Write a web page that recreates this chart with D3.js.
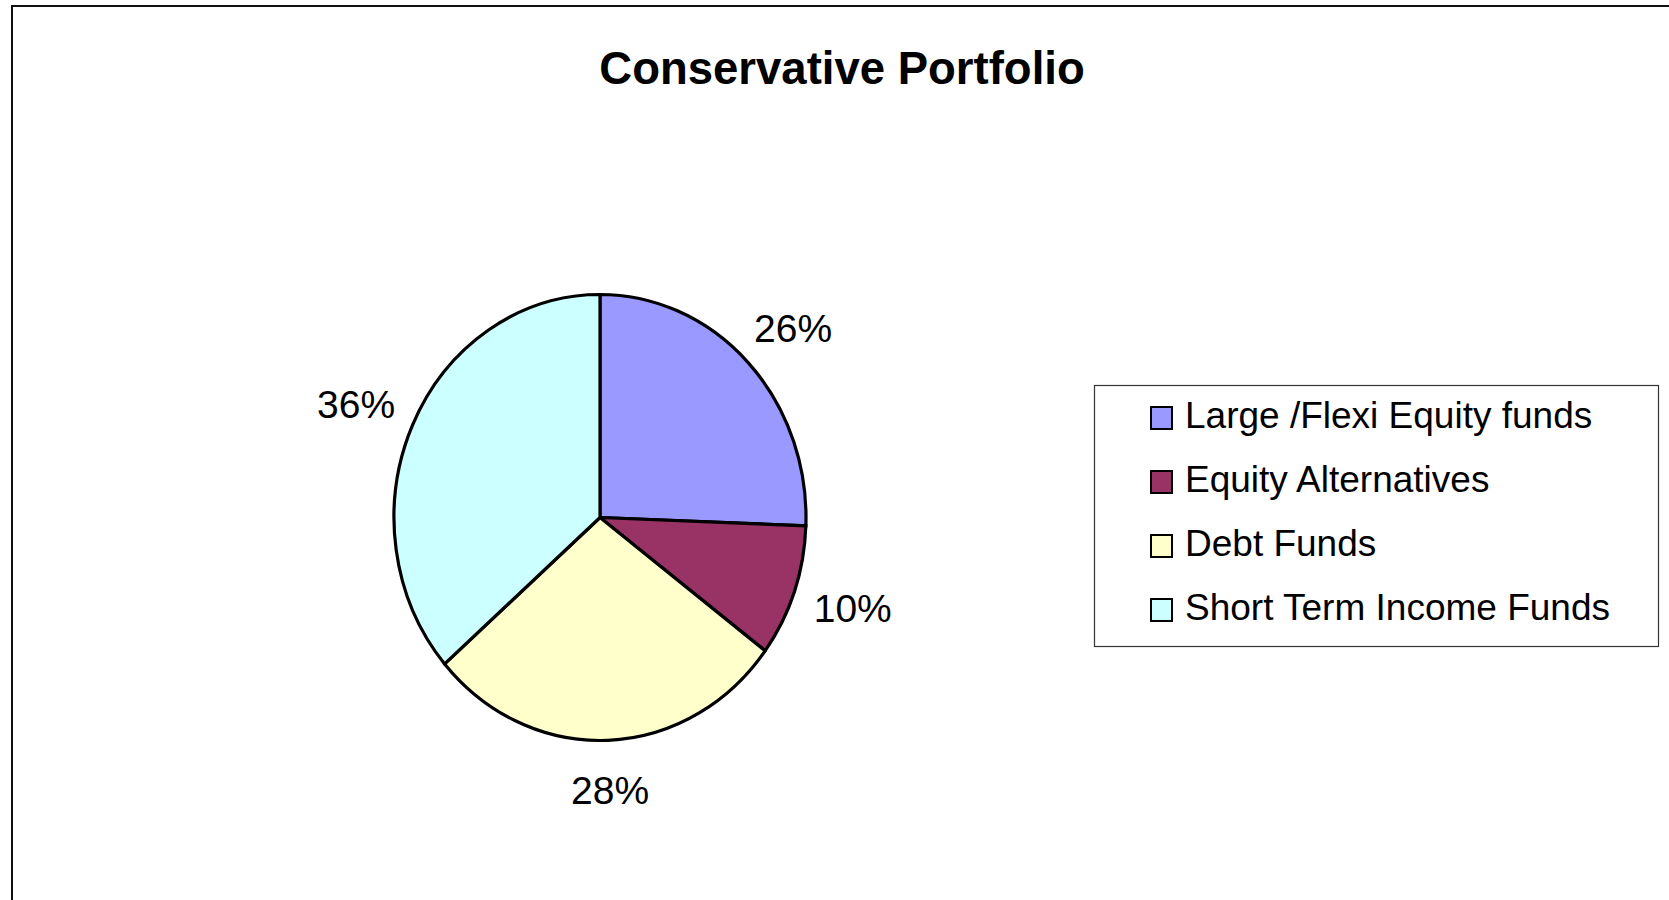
<!DOCTYPE html>
<html lang="en">
<head>
    <meta charset="UTF-8">
    <title>Conservative Portfolio</title>
    <script src="https://d3js.org/d3.v7.min.js"></script>
    <style>
        body {
            margin: 0;
            background-color: white;
        }

        svg {
            display: block;
            font-family: "Liberation Sans", Arial, sans-serif;
        }

        .slice {
            stroke: black;
            stroke-width: 3.2px;
        }

        .pct {
            font-size: 39px;
            fill: black;
            text-anchor: middle;
        }

        .legend-text {
            font-size: 37px;
            fill: black;
        }
    </style>
</head>
<body>
<svg width="1669" height="900"></svg>

<script>
    const categories = ["Large /Flexi Equity funds", "Equity Alternatives", "Debt Funds", "Short Term Income Funds"];
    const shares = [25.6, 9.6, 28.4, 36.4];
    const colors = ["#9999FF", "#993366", "#FFFFCC", "#CCFFFF"];
    const chartTitle = "Conservative Portfolio";

    const svg = d3.select("svg");

    // chart frame (only top and left edges are inside the window)
    svg.append("rect")
        .attr("x", 12)
        .attr("y", 6)
        .attr("width", 1700)
        .attr("height", 1000)
        .attr("fill", "white")
        .attr("stroke", "#111")
        .attr("stroke-width", 2);

    svg.append("text")
        .attr("x", 842)
        .attr("y", 84)
        .attr("text-anchor", "middle")
        .style("font-size", "45.5px")
        .style("font-weight", "bold")
        .text(chartTitle);

    // pie, slightly taller than wide like the original
    const cx = 600, cy = 517.5;
    const rx = 206, ry = 223;

    const pie = d3.pie().sort(null).value(d => d);
    const arcs = pie(shares);
    const arc = d3.arc().innerRadius(0).outerRadius(rx);

    const pieG = svg.append("g")
        .attr("transform", `translate(${cx},${cy}) scale(1,${ry / rx})`);

    pieG.selectAll(".slice")
        .data(arcs)
        .enter()
        .append("path")
        .attr("class", "slice")
        .attr("d", arc)
        .attr("fill", (d, i) => colors[i])
        .attr("vector-effect", "non-scaling-stroke");

    // percent labels sit just outside the rim
    const padX = 62, padY = 50;
    svg.selectAll(".pct")
        .data(arcs)
        .enter()
        .append("text")
        .attr("class", "pct")
        .attr("x", d => {
            const a = (d.startAngle + d.endAngle) / 2;
            return cx + (rx + padX) * Math.sin(a);
        })
        .attr("y", d => {
            const a = (d.startAngle + d.endAngle) / 2;
            return cy - (ry + padY) * Math.cos(a);
        })
        .attr("dy", "0.36em")
        .text(d => Math.round(d.data) + "%");

    // legend
    const legend = svg.append("g");
    legend.append("rect")
        .attr("x", 1094.5)
        .attr("y", 385.5)
        .attr("width", 564)
        .attr("height", 261)
        .attr("fill", "white")
        .attr("stroke", "#333")
        .attr("stroke-width", 1.2);

    const rowY = d3.scalePoint()
        .domain(categories)
        .range([428, 620]);

    const items = legend.selectAll(".item")
        .data(categories)
        .enter()
        .append("g")
        .attr("class", "item");

    items.append("rect")
        .attr("x", 1151)
        .attr("y", d => rowY(d) - 21)
        .attr("width", 21)
        .attr("height", 22)
        .attr("fill", (d, i) => colors[i])
        .attr("stroke", "black")
        .attr("stroke-width", 2);

    items.append("text")
        .attr("class", "legend-text")
        .attr("x", 1185)
        .attr("y", d => rowY(d))
        .text(d => d);
</script>
</body>
</html>
